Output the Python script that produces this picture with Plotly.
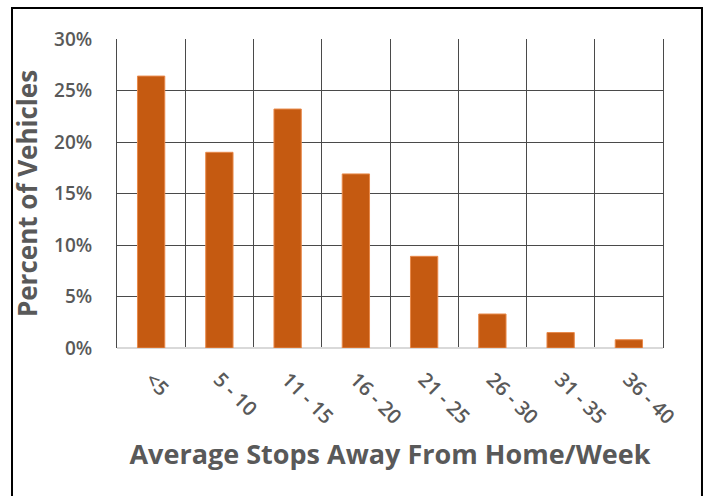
import plotly.graph_objects as go

# Share of vehicles by average number of stops away from home per week
categories = ["<5", "5 - 10", "11 - 15", "16 - 20", "21 - 25", "26 - 30", "31 - 35", "36 - 40"]
percent_vehicles = [26.4, 19.0, 23.2, 16.9, 8.9, 3.3, 1.5, 0.8]
y_ticks = [0, 5, 10, 15, 20, 25, 30]

BAR = "#C55A11"
TEXT = "#595959"
GRID = "#4a4a4a"
FONT = "Open Sans"

fig = go.Figure(
    go.Bar(
        x=categories,
        y=percent_vehicles,
        marker=dict(color=BAR, line=dict(color="#E8894A", width=1)),
        width=0.4,
        hoverinfo="x+y",
    )
)

fig.update_layout(
    width=705,
    height=496,
    margin=dict(l=117, r=42, t=39, b=148),
    paper_bgcolor="white",
    plot_bgcolor="white",
    showlegend=False,
    font=dict(family=FONT, color=TEXT),
)

fig.update_xaxes(
    type="category",
    tickson="boundaries",
    showgrid=True,
    gridcolor=GRID,
    gridwidth=1,
    ticks="",
    tickangle=45,
    tickfont=dict(size=20, color=TEXT, weight=600),
    ticklabelstandoff=15,
    showline=False,
    title=dict(
        text="<b>Average Stops Away From Home/Week</b>",
        font=dict(size=27, color=TEXT),
        standoff=16,
    ),
)

fig.update_yaxes(
    range=[0, 30],
    tickvals=y_ticks,
    ticktext=[f"{v}%" for v in y_ticks],
    showgrid=True,
    gridcolor=GRID,
    gridwidth=1,
    zeroline=True,
    zerolinecolor="#d9d9d9",
    zerolinewidth=2,
    showline=True,
    linecolor=GRID,
    linewidth=1,
    mirror=True,
    ticks="",
    tickfont=dict(size=19, color=TEXT, weight=600),
    ticklabelstandoff=20,
    title=dict(
        text="<b>Percent of Vehicles</b>",
        font=dict(size=26, color=TEXT),
        standoff=8,
    ),
)

# Outer frame around the chart (open at the bottom edge of the page)
fig.add_shape(
    type="path",
    xref="paper",
    yref="paper",
    path="M -0.1923,-0.55 L -0.1923,1.1003 L 1.0714,1.1003 L 1.0714,-0.55",
    line=dict(color="black", width=2),
    layer="above",
)

fig.write_html("out.html")
